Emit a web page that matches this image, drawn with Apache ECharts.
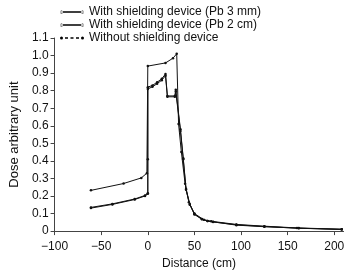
<!DOCTYPE html>
<html>
<head>
<meta charset="utf-8">
<script src="https://cdn.jsdelivr.net/npm/echarts@6/dist/echarts.min.js"></script>
<style>
  html, body { margin: 0; padding: 0; background: #fff; }
  #chart { width: 347px; height: 275px; }
</style>
</head>
<body>
<div id="chart"></div>
<script>
// series names
const seriesNames = [
  "With shielding device (Pb 3 mm)",
  "With shielding device (Pb 2 cm)",
  "Without shielding device",
];

// [distance (cm), dose]
const pb3mm = [
  [-61, 0.131], [-38, 0.152], [-14, 0.18], [-3, 0.2], [0, 0.213], [0, 0.41], [0, 0.82],
  [5, 0.83], [10, 0.848], [15, 0.868], [19, 0.895], [21, 0.77], [29, 0.77], [30, 0.805],
  [35, 0.58], [38, 0.415], [41, 0.24], [45, 0.155], [50, 0.097], [58, 0.069],
  [64, 0.058], [70, 0.053], [95, 0.034], [125, 0.025], [162, 0.017], [208, 0.009],
];
const pb2cm = [
  [-61, 0.135], [-38, 0.155], [-14, 0.183], [-3, 0.203], [0, 0.216], [0, 0.81],
  [5, 0.822], [10, 0.84], [15, 0.86], [19, 0.885], [21, 0.765], [29, 0.765], [30, 0.795],
  [35, 0.57], [38, 0.41], [41, 0.235], [45, 0.15], [50, 0.095], [58, 0.067],
  [64, 0.057], [70, 0.052], [95, 0.036], [125, 0.026], [162, 0.016], [208, 0.01],
];
const noShield = [
  [-61, 0.232], [-26, 0.271], [-7, 0.303], [-1, 0.33], [0, 0.94], [19, 0.958],
  [27, 0.985], [31, 1.01], [33, 0.61], [36, 0.45], [40, 0.27], [44, 0.165],
  [50, 0.1], [60, 0.065], [68, 0.056], [95, 0.038], [125, 0.028], [160, 0.018], [208, 0.011],
];

const xTicks = [-100, -50, 0, 50, 100, 150, 200];

// legend icons: line with a dot at each end
const dot = (cx) => "M" + (cx - 1.5) + ",2a1.5,1.5 0 1,0 3,0a1.5,1.5 0 1,0 -3,0z";
const solidIcon = "path://M0,1.3h24v1.4h-24z" + dot(1.5) + dot(22.5);
const dashIcon = "path://M5,1.3h3v1.4h-3zM10.5,1.3h3v1.4h-3zM16,1.3h3v1.4h-3z" + dot(1.5) + dot(22.5);

const chart = echarts.init(document.getElementById("chart"));

const mkSeries = (name, data) => ({
  name: name,
  type: "line",
  data: data,
  symbol: "circle",
  symbolSize: 2.5,
  showSymbol: true,
  animation: false,
  itemStyle: { color: "#111" },
  lineStyle: { color: "#111", width: 1 },
});

chart.setOption({
  animation: false,
  textStyle: { fontFamily: "Liberation Sans, Arial, sans-serif" },
  legend: {
    orient: "vertical",
    left: 55,
    top: 1,
    itemGap: 1,
    itemWidth: 24,
    itemHeight: 3,
    textStyle: { color: "#111", fontSize: 12 },
    itemStyle: { color: "#000" },
    data: [
      { name: seriesNames[0], icon: solidIcon },
      { name: seriesNames[1], icon: solidIcon },
      { name: seriesNames[2], icon: dashIcon },
    ],
  },
  grid: { left: 46, right: 0, top: 38, bottom: 41 },
  xAxis: {
    type: "value",
    min: -100,
    max: 210,
    interval: 50,
    name: "Distance (cm)",
    nameLocation: "middle",
    nameGap: 26,
    nameTextStyle: { color: "#111", fontSize: 12 },
    splitLine: { show: false },
    axisLine: { onZero: false, lineStyle: { color: "#444" } },
    axisTick: { show: true, length: 4, customValues: xTicks, lineStyle: { color: "#444" } },
    axisLabel: {
      color: "#111",
      fontSize: 12,
      margin: 10,
      customValues: xTicks,
      formatter: (v) => (v < 0 ? "\u2212" + Math.abs(v) : String(v)),
    },
  },
  yAxis: {
    type: "value",
    min: 0,
    max: 1.1,
    interval: 0.1,
    name: "Dose arbitrary unit",
    nameLocation: "middle",
    nameGap: 30,
    nameTextStyle: { color: "#111", fontSize: 13 },
    splitLine: { show: false },
    axisLine: { show: true, onZero: false, lineStyle: { color: "#444" } },
    axisTick: { show: true, length: 4, lineStyle: { color: "#444" } },
    axisLabel: {
      color: "#111",
      fontSize: 12,
      margin: 6,
      formatter: (v) => (v === 0 ? "0" : v.toFixed(1)),
    },
  },
  series: [
    mkSeries(seriesNames[0], pb3mm),
    mkSeries(seriesNames[1], pb2cm),
    mkSeries(seriesNames[2], noShield),
  ],
});
</script>
</body>
</html>
